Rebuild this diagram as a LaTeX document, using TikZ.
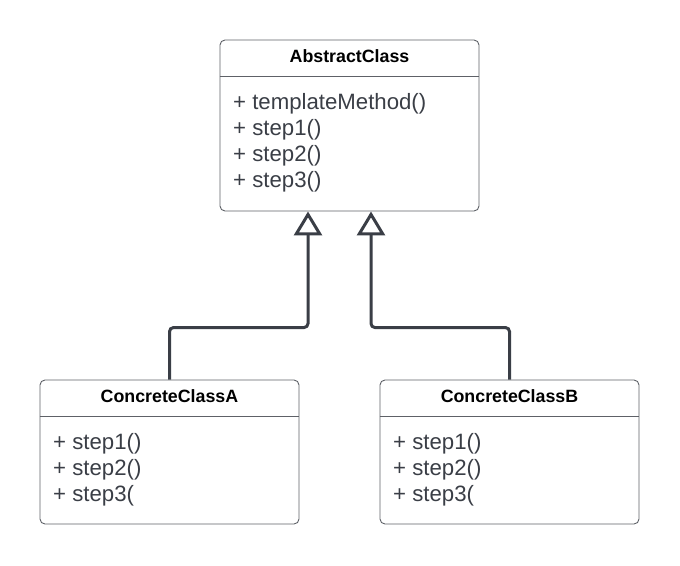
\documentclass[tikz,border=0pt]{standalone}
\usepackage{fontspec}
\setmainfont{Liberation Sans}
\usepackage{tikz}
\usetikzlibrary{arrows.meta}
\definecolor{umlline}{HTML}{3A3E46}
\definecolor{umlbox}{HTML}{5E6167}

\begin{document}
\begin{tikzpicture}[x=1pt,y=-1pt,
  cls/.style={draw=umlbox,line width=0.9pt,rounded corners=5pt,minimum width=259pt,inner sep=0pt},
  ttl/.style={anchor=base,inner sep=0pt,font=\fontsize{17.8}{20}\selectfont\bfseries},
  mth/.style={anchor=base west,inner sep=0pt,text=umlline,font=\fontsize{22.2}{26}\selectfont},
  gen/.style={draw=umlline,line width=3pt,rounded corners=4pt,-{Triangle[open,length=24pt,width=28pt,line width=3pt]}}]
  \useasboundingbox (0,0) rectangle (680,565);
  % class boxes
  \node[cls,minimum height=171pt] (abs) at (349.5,125.5) {};
  \node[cls,minimum height=144pt] (cla) at (169.5,452) {};
  \node[cls,minimum height=144pt] (clb) at (509.5,452) {};
  \foreach \c in {abs,cla,clb}{\draw[umlbox,line width=0.9pt] ([yshift=-37pt]\c.north west) -- ([yshift=-37pt]\c.north east);}
  % names
  \node[ttl] (abs-t) at (349.5,62) {AbstractClass};
  \node[ttl] (cla-t) at (169.5,402) {ConcreteClassA};
  \node[ttl] (clb-t) at (509.5,402) {ConcreteClassB};
  % operations
  \foreach \m [count=\i] in {templateMethod(),step1(),step2(),step3()}{\node[mth] (abs-m\i) at (233,83+26*\i) {+ \m};}
  \foreach \m [count=\i] in {step1(),step2(),step3(}{
    \node[mth] (cla-m\i) at (53,423+26*\i) {+ \m};
    \node[mth] (clb-m\i) at (393,423+26*\i) {+ \m};}
  % generalisation
  \draw[gen] (cla.north) -- ++(0,-52) -| ([xshift=-41.5pt]abs.south);
  \draw[gen] (clb.north) -- ++(0,-52) -| ([xshift=21.5pt]abs.south);
\end{tikzpicture}
\end{document}
